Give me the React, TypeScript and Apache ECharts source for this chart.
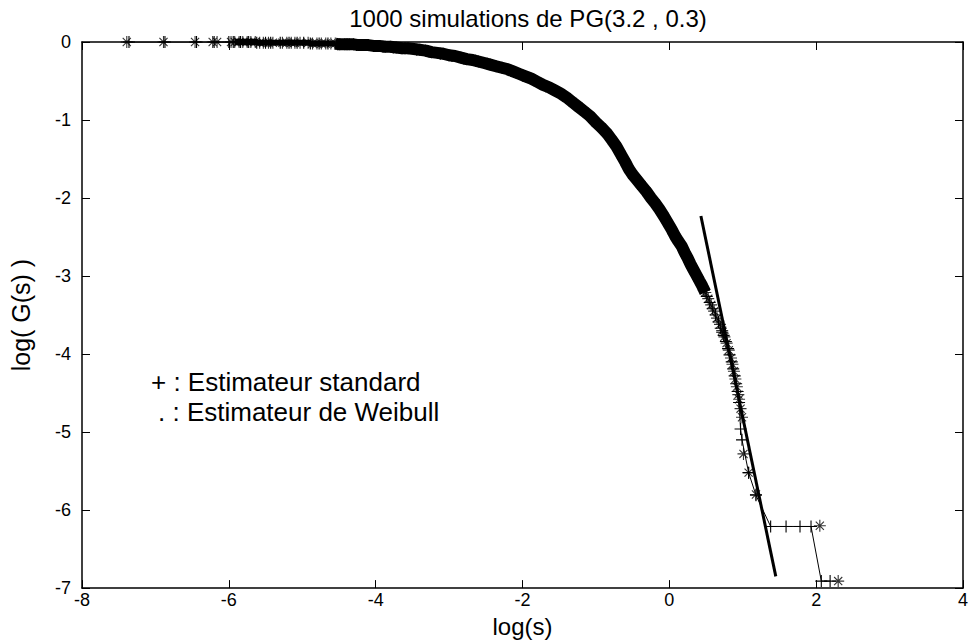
import React, { useEffect, useRef } from "react";
import * as echarts from "echarts";

// Estimateur de Weibull (asterisks)
const weibullX = [
  -7.39, -6.89, -6.46, -6.22, -6.16, -5.97, -5.92, -5.86, -5.81, -5.75, -5.7, -5.64,
  -5.58, -5.53, -5.46, -5.4, -5.27, -5.21, -5.15, -5.1, -5.03, -4.92, -4.86, -4.8,
  -4.74, -4.68, -4.61, -4.55, -4.49, -4.42, -4.36, -4.3, -4.23, -4.16, -4.1, -4.03,
  -3.95, -3.87, -3.8, -3.72, -3.64, -3.56, -3.48, -3.4, -3.32, -3.24, -3.16, -3.08,
  -3.0, -2.92, -2.84, -2.76, -2.68, -2.6, -2.52, -2.44, -2.36, -2.28, -2.2, -2.12,
  -2.04, -1.96, -1.88, -1.8, -1.72, -1.64, -1.56, -1.48, -1.4, -1.32, -1.24, -1.16,
  -1.08, -1.0, -0.92, -0.85, -0.78, -0.72, -0.66, -0.6, -0.55, -0.5, -0.44, -0.38,
  -0.31, -0.25, -0.19, -0.13, -0.07, -0.02, 0.03, 0.08, 0.12, 0.17, 0.21, 0.25,
  0.29, 0.33, 0.37, 0.41, 0.45, 0.49, 0.53, 0.57, 0.61, 0.65, 0.69, 0.72,
  0.75, 0.78, 0.81, 0.84, 0.86, 0.88, 0.9, 0.92, 0.94, 0.95, 0.97, 0.99,
  1.01, 1.08, 1.18, 2.05, 2.3,
];
const weibullY = [
  0, 0, 0, 0, 0, 0, 0, 0, 0, 0, 0, 0,
  -0.01, -0.01, -0.01, -0.01, -0.01, -0.01, -0.01, -0.01, -0.01, -0.01, -0.02, -0.02,
  -0.02, -0.02, -0.02, -0.02, -0.03, -0.03, -0.03, -0.03, -0.04, -0.04, -0.04, -0.05,
  -0.05, -0.06, -0.06, -0.07, -0.08, -0.08, -0.09, -0.1, -0.11, -0.13, -0.14, -0.15,
  -0.17, -0.18, -0.2, -0.22, -0.23, -0.25, -0.27, -0.29, -0.31, -0.33, -0.35, -0.38,
  -0.41, -0.44, -0.47, -0.51, -0.55, -0.58, -0.62, -0.66, -0.71, -0.77, -0.83, -0.89,
  -0.95, -1.03, -1.1, -1.17, -1.26, -1.34, -1.44, -1.54, -1.63, -1.7, -1.77, -1.84,
  -1.92, -2.0, -2.07, -2.15, -2.24, -2.32, -2.4, -2.49, -2.55, -2.62, -2.7, -2.77,
  -2.85, -2.92, -2.99, -3.06, -3.13, -3.21, -3.29, -3.37, -3.45, -3.54, -3.62, -3.7,
  -3.78, -3.86, -3.95, -4.05, -4.13, -4.22, -4.32, -4.42, -4.52, -4.58, -4.7, -4.81,
  -5.28, -5.52, -5.8, -6.2, -6.91,
];

// Estimateur standard (plus signs, joined by a thin line)
const standardX = [
  -7.36, -6.87, -6.44, -6.2, -6.0, -5.94, -5.84, -5.73, -5.62, -5.5, -5.43, -5.3,
  -5.18, -5.07, -4.98, -4.89, -4.77, -4.65, -4.52, -4.39, -4.26, -4.13, -4.0, -3.9,
  -3.76, -3.6, -3.44, -3.28, -3.12, -2.96, -2.8, -2.64, -2.48, -2.32, -2.16, -2.0,
  -1.84, -1.68, -1.52, -1.36, -1.2, -1.04, -0.88, -0.75, -0.63, -0.52, -0.41, -0.28,
  -0.16, -0.04, 0.06, 0.15, 0.23, 0.31, 0.39, 0.47, 0.51, 0.55, 0.59, 0.63, 0.67,
  0.7, 0.72, 0.74, 0.77, 0.8, 0.82, 0.85, 0.87, 0.89, 0.91, 0.93, 0.95, 0.97,
  0.99, 1.08, 1.18, 1.38, 1.59, 1.78, 1.93, 2.07, 2.19,
];
const standardY = [
  0, 0, 0, 0, 0, 0, 0, 0, -0.01, -0.01, -0.01, -0.01,
  -0.01, -0.01, -0.01, -0.02, -0.02, -0.02, -0.03, -0.03, -0.04, -0.04, -0.05, -0.06,
  -0.07, -0.08, -0.1, -0.12, -0.15, -0.18, -0.21, -0.24, -0.28, -0.32, -0.37, -0.43,
  -0.49, -0.57, -0.64, -0.74, -0.86, -0.99, -1.14, -1.3, -1.49, -1.67, -1.81, -1.96,
  -2.11, -2.29, -2.46, -2.59, -2.74, -2.89, -3.03, -3.18, -3.26, -3.34, -3.42, -3.5, -3.59,
  -3.67, -3.72, -3.76, -3.84, -3.93, -4.01, -4.1, -4.19, -4.28, -4.38, -4.48, -4.62, -4.96,
  -5.1, -5.52, -5.81, -6.21, -6.21, -6.21, -6.21, -6.91, -6.91,
];

// Fitted straight line
const fitX = [0.43, 1.45];
const fitY = [-2.23, -6.85];

// Axis ticks
const xTicks = [-8, -6, -4, -2, 0, 2, 4];
const yTicks = [-7, -6, -5, -4, -3, -2, -1, 0];

const titleText = "1000 simulations de PG(3.2 , 0.3)";
const xName = "log(s)";
const yName = "log( G(s) )";
const legendLines = ["+ : Estimateur standard", ". : Estimateur de Weibull"];

const FONT = "'Liberation Sans', Arial, Helvetica, sans-serif";
const PLUS = "path://M0,5L10,5M5,0L5,10";
const STAR = "path://M0,5L10,5M5,0L5,10M1.6,1.6L8.4,8.4M8.4,1.6L1.6,8.4";

const zip = (xs: number[], ys: number[]) => xs.map((x, i) => [x, ys[i]]);

export default function App() {
  const ref = useRef<HTMLDivElement>(null);
  useEffect(() => {
    const chart = echarts.init(ref.current!, null, { renderer: "svg" });
    const wei = zip(weibullX, weibullY);
    const std = zip(standardX, standardY);
    // dense parts of the cloud where the markers merge into a solid band
    const bandFlat = wei.filter((p) => p[0] >= -5.95 && p[0] <= -4.5);
    const bandDense = wei.filter((p) => p[0] >= -4.55 && p[0] <= 0.5);
    const fit = zip(fitX, fitY);

    const lineStyle = { color: "#000", width: 1.5 };
    const tick = { show: true, inside: true, length: 8, lineStyle: { color: "#000", width: 1 } };
    const xStep = xTicks[1] - xTicks[0];
    const yStep = yTicks[1] - yTicks[0];
    const xBase = {
      type: "value",
      min: xTicks[0],
      max: xTicks[xTicks.length - 1],
      interval: xStep,
      axisLine: { show: true, onZero: false, lineStyle },
      axisTick: tick,
      splitLine: { show: false },
    };
    const yBase = {
      type: "value",
      min: yTicks[0],
      max: yTicks[yTicks.length - 1],
      interval: yStep,
      axisLine: { show: true, onZero: false, lineStyle },
      axisTick: tick,
      splitLine: { show: false },
    };

    chart.setOption({
      animation: false,
      backgroundColor: "#fff",
      title: {
        text: titleText,
        left: 528,
        top: 6,
        padding: 0,
        textAlign: "center",
        textStyle: { fontFamily: FONT, fontSize: 24, fontWeight: "normal", color: "#000" },
      },
      grid: { left: 78, right: 6, top: 42, bottom: 51 },
      xAxis: [
        {
          ...xBase,
          position: "bottom",
          name: xName,
          nameLocation: "middle",
          nameGap: 20,
          nameTextStyle: { fontFamily: FONT, fontSize: 24, color: "#000" },
          axisLabel: { fontFamily: FONT, fontSize: 18, color: "#000", margin: 3 },
        },
        { ...xBase, position: "top", axisLabel: { show: false } },
      ],
      yAxis: [
        {
          ...yBase,
          position: "left",
          name: yName,
          nameLocation: "middle",
          nameGap: 49,
          nameTextStyle: { fontFamily: FONT, fontSize: 25, color: "#000" },
          axisLabel: { fontFamily: FONT, fontSize: 18, color: "#000", margin: 11 },
        },
        { ...yBase, position: "right", axisLabel: { show: false } },
      ],
      graphic: legendLines.map((t, i) => ({
        type: "text",
        x: i === 0 ? 151 : 158,
        y: i === 0 ? 382 : 412,
        style: { text: t, fontFamily: FONT, fontSize: 26, fill: "#000", verticalAlign: "middle" },
      })),
      series: [
        {
          type: "line",
          data: bandFlat,
          symbol: "none",
          lineStyle: { color: "#000", width: 6 },
          z: 1,
          silent: true,
        },
        {
          type: "line",
          data: bandDense,
          symbol: "none",
          lineStyle: { color: "#000", width: 12 },
          z: 1,
          silent: true,
        },
        {
          name: "Estimateur standard",
          type: "line",
          data: std,
          symbol: PLUS,
          symbolSize: 12,
          showAllSymbol: true,
          itemStyle: { color: "rgba(0,0,0,0)", borderColor: "#000", borderWidth: 1.1 },
          lineStyle: { color: "#000", width: 1 },
          z: 2,
        },
        {
          name: "Estimateur de Weibull",
          type: "scatter",
          data: wei,
          symbol: STAR,
          symbolSize: 12,
          itemStyle: { color: "rgba(0,0,0,0)", borderColor: "#000", borderWidth: 1.1 },
          z: 3,
        },
        {
          type: "line",
          data: fit,
          symbol: "none",
          lineStyle: { color: "#000", width: 3 },
          z: 4,
        },
      ],
    });
    return () => chart.dispose();
  }, []);
  return (
    <div
      ref={ref}
      style={{ position: "absolute", left: 0, top: 0, width: 971, height: 643, background: "#fff" }}
    />
  );
}
